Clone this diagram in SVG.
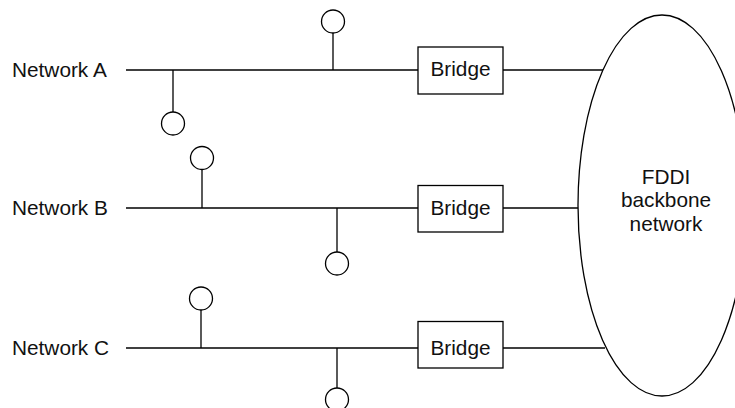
<svg xmlns="http://www.w3.org/2000/svg" width="735" height="408" viewBox="0 0 735 408">
<style>
  .ln{stroke:#000;stroke-width:1.3;fill:none}
  .st{stroke:#000;stroke-width:1.3;fill:#fff}
  .box{stroke:#000;stroke-width:1.3;fill:#fff}
  text{font-family:"Liberation Sans",Arial,sans-serif;font-size:20.8px;fill:#111}
  .c{text-anchor:middle}
</style>
<rect width="735" height="408" fill="#fff"/>
<g id="connectors">
  <line class="ln" x1="126" y1="70" x2="418" y2="70"/>
  <line class="ln" x1="503" y1="70" x2="603" y2="70"/>
  <line class="ln" x1="173" y1="70" x2="173" y2="112"/>
  <line class="ln" x1="333" y1="70" x2="333" y2="33"/>
  <line class="ln" x1="126" y1="208" x2="418" y2="208"/>
  <line class="ln" x1="503" y1="208" x2="578" y2="208"/>
  <line class="ln" x1="202" y1="208" x2="202" y2="170"/>
  <line class="ln" x1="337" y1="208" x2="337" y2="252"/>
  <line class="ln" x1="126" y1="348" x2="418" y2="348"/>
  <line class="ln" x1="503" y1="348" x2="605" y2="348"/>
  <line class="ln" x1="201" y1="348" x2="201" y2="310"/>
  <line class="ln" x1="337" y1="348" x2="337" y2="388"/>
</g>
<g id="fddi">
  <ellipse class="ln" cx="662" cy="205.5" rx="84" ry="190.5"/>
  <text class="c" x="666" y="183.5">FDDI</text>
  <text class="c" x="666" y="207">backbone</text>
  <text class="c" x="666" y="230.5">network</text>
</g>
<g id="networkA"><text x="12" y="77">Network A</text></g>
<g id="networkB"><text x="12" y="215">Network B</text></g>
<g id="networkC"><text x="12" y="355">Network C</text></g>
<g id="bridgeA"><rect class="box" x="418" y="47" width="85" height="47"/><text class="c" x="460.5" y="76">Bridge</text></g>
<g id="bridgeB"><rect class="box" x="418" y="185.5" width="85" height="46.5"/><text class="c" x="460.5" y="214.5">Bridge</text></g>
<g id="bridgeC"><rect class="box" x="418" y="321.5" width="85" height="46.5"/><text class="c" x="460.5" y="354.5">Bridge</text></g>
<g id="stationA1"><circle class="st" cx="173" cy="123.5" r="11.5"/></g>
<g id="stationA2"><circle class="st" cx="333" cy="21.5" r="11.5"/></g>
<g id="stationB1"><circle class="st" cx="202" cy="158" r="11.5"/></g>
<g id="stationB2"><circle class="st" cx="337" cy="263.5" r="11.5"/></g>
<g id="stationC1"><circle class="st" cx="201" cy="298.5" r="11.5"/></g>
<g id="stationC2"><circle class="st" cx="337" cy="399.5" r="11.5"/></g>
</svg>
